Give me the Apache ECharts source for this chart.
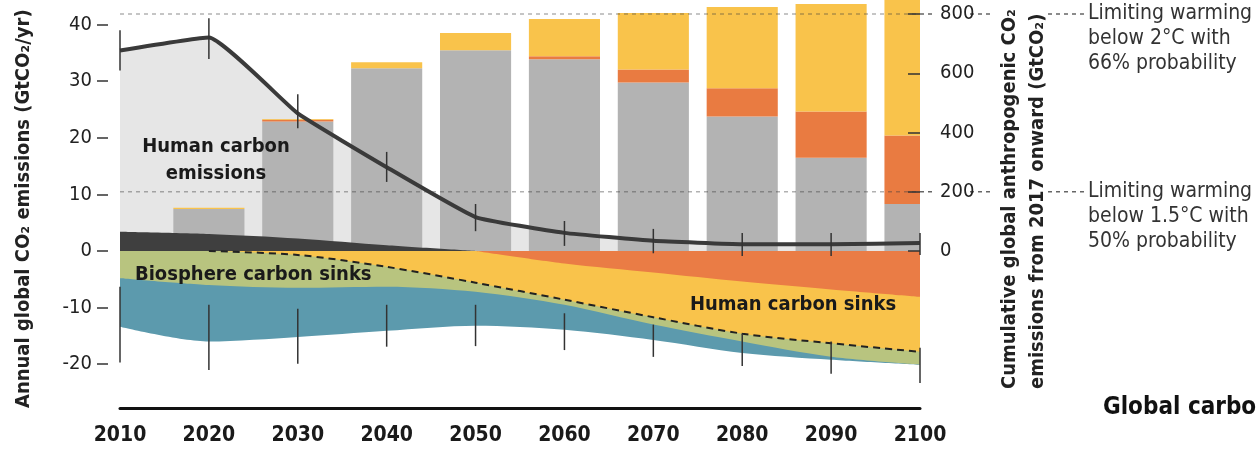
<!DOCTYPE html>
<html><head><meta charset="utf-8">
<script src="https://cdn.jsdelivr.net/npm/echarts@6/dist/echarts.min.js"></script>
<style>html,body{margin:0;padding:0;background:#fff}#c{width:1256px;height:449px}</style>
</head><body><div id="c"></div>
<script>
// ---- data ----
const years = [2010, 2020, 2030, 2040, 2050, 2060, 2070, 2080, 2090, 2100];
const xTicks = [2010, 2020, 2030, 2040, 2050, 2060, 2070, 2080, 2090, 2100];
const leftTicks = [-20, -10, 0, 10, 20, 30, 40];
const rightTicks = [0, 200, 400, 600, 800];
// annual human emissions (GtCO2/yr, left axis)
const emissions = [35.4, 37.7, 24.3, 14.8, 6.0, 3.2, 1.8, 1.2, 1.2, 1.4];
const emissionsHigh = [39.0, 41.1, 27.7, 17.5, 8.3, 5.3, 3.9, 3.2, 3.2, 3.2];
const emissionsLow = [31.9, 33.9, 21.7, 12.2, 3.5, 0.9, -0.4, -0.9, -0.9, -0.7];
const darkBand = [3.4, 3.0, 2.2, 1.0, 0, null, null, null, null, null];
// sink boundaries (left axis, negative)
const orangeSinkEdge = [null, null, null, null, 0, -2.2, -3.8, -5.4, -6.8, -8.1];
const humanSinkEdge = [null, 0, -0.7, -2.8, -5.6, -8.6, -11.7, -14.6, -16.3, -17.8];
const landSinkEdge = [-4.8, -6.0, -6.5, -6.3, -7.2, -9.5, -13.0, -16.0, -18.7, -20.1];
const oceanSinkEdge = [-13.4, -16.0, -15.2, -14.1, -13.2, -13.9, -15.7, -18.0, -19.2, -20.1];
const sinkErrHigh = [-6.3, -9.5, -10.2, -9.5, -9.5, -11.0, -13.0, -14.6, -16.0, -17.1];
const sinkErrLow = [-19.7, -21.0, -19.9, -16.9, -16.8, -17.5, -18.7, -20.3, -21.7, -23.3];
// cumulative emissions from 2017 (GtCO2, right axis)
const barYears = [2020, 2030, 2040, 2050, 2060, 2070, 2080, 2090, 2100];
const cumGray = [142, 437, 617, 678, 647, 569, 454, 315, 159];
const cumOrange = [0, 6, 0, 0, 10, 44, 95, 156, 231];
const cumYellow = [4, 3, 20, 58, 126, 190, 275, 363, 460];
const refLevels = [800, 200];

// ---- chart ----
const FONT = "'DejaVu Sans Condensed',sans-serif";
const pair = arr => years.map((y, i) => [y, arr[i]]).filter(d => d[1] != null);
const SM = 0.3;
const chart = echarts.init(document.getElementById('c'));

function areaSeries(name, arr, color, z, lineStyle, smooth) {
  return {
    name, type: 'line', data: pair(arr), smooth: smooth == null ? SM : smooth, symbol: 'none', z,
    yAxisIndex: 0,
    lineStyle: lineStyle || { width: 0 },
    areaStyle: { color, opacity: 1, origin: 0 }
  };
}
function vbar(params, api, color, w) {
  const x = api.value(0);
  const p1 = api.coord([x, api.value(1)]);
  const p2 = api.coord([x, api.value(2)]);
  return { type: 'line', shape: { x1: p1[0], y1: p1[1], x2: p2[0], y2: p2[1] },
    style: { stroke: color, lineWidth: w } };
}

const option = {
  animation: false,
  grid: { left: 120, right: 336, top: 0, bottom: 41 },
  xAxis: {
    type: 'value', min: 2010, max: 2100, interval: 10,
    axisLine: { show: true, onZero: false, lineStyle: { color: '#111', width: 3 } },
    axisTick: { show: false }, splitLine: { show: false },
    axisLabel: { margin: 17, fontFamily: FONT, fontSize: 21, fontWeight: 'bold', color: '#1a1a1a',
      formatter: v => String(v) }
  },
  yAxis: [
    { type: 'value', min: -27.73, max: 44.33, position: 'left', offset: 12,
      axisLine: { show: false }, splitLine: { show: false },
      axisTick: { show: true, length: 11, customValues: leftTicks, lineStyle: { color: '#333', width: 1.5 } },
      axisLabel: { customValues: leftTicks, margin: 16, fontFamily: FONT, fontSize: 20, color: '#222' } },
    { type: 'value', min: -530, max: 847.3, position: 'right', z: 10,
      axisLine: { show: false }, splitLine: { show: false },
      axisTick: { show: true, inside: true, length: 12, customValues: rightTicks, lineStyle: { color: '#333', width: 1.5 } },
      axisLabel: { customValues: rightTicks, margin: 20, fontFamily: FONT, fontSize: 20, color: '#222' } }
  ],
  series: [
    areaSeries('Human carbon emissions', emissions, '#e6e6e6', 1, null, 0.12),
    { name: 'Cumulative emissions', type: 'custom', yAxisIndex: 1, z: 2, clip: true,
      data: barYears.map((y, i) => [y, cumGray[i], cumOrange[i], cumYellow[i]]),
      encode: { x: 0, y: 1 },
      renderItem: (p, api) => {
        const x = api.value(0), g = api.value(1), o = api.value(2), yv = api.value(3);
        const w = api.size([10, 0])[0] * 0.8;
        const seg = (a, b, color) => {
          const p0 = api.coord([x, a]), p1 = api.coord([x, b]);
          return { type: 'rect', shape: { x: p0[0] - w / 2, y: p1[1], width: w, height: p0[1] - p1[1] },
            style: { fill: color } };
        };
        return { type: 'group', children: [
          seg(0, g, '#b3b3b3'), seg(g, g + o, '#e97b41'), seg(g + o, g + o + yv, '#f9c34b')] };
      } },
    areaSeries('Land use', darkBand, '#3f3f3f', 3),
    areaSeries('Ocean sink', oceanSinkEdge, '#5c9aad', 3),
    areaSeries('Land sink', landSinkEdge, '#b8c47f', 3),
    areaSeries('Human sinks', humanSinkEdge, '#f9c34b', 3, { width: 2, color: '#222', type: [7, 5] }),
    areaSeries('Engineered sinks', orangeSinkEdge, '#ea7c45', 3),
    { name: 'ref', type: 'custom', xAxisIndex: 0, yAxisIndex: 1, z: 4, clip: false,
      data: refLevels.map(v => [2010, v]),
      renderItem: (params, api) => {
        const v = api.value(1);
        const a = api.coord([2010, v]), b = api.coord([2100, v]);
        const seg = (x1, x2, col) => ({ type: 'line', shape: { x1, y1: a[1], x2, y2: a[1] },
          style: { stroke: col, lineWidth: 1.5, lineDash: [4, 4] } });
        return { type: 'group', children: [
          seg(a[0], b[0], 'rgba(60,60,60,0.4)'),
          seg(b[0], b[0] + 15, '#666'),
          seg(b[0] + 50, b[0] + 72, '#666'),
          seg(b[0] + 128, b[0] + 164, '#666')
        ] };
      } },
    { name: 'Emissions', type: 'line', data: pair(emissions), smooth: 0.12, symbol: 'none', z: 5,
      lineStyle: { color: '#3a3a3a', width: 4 } },
    { name: 'emErr', type: 'custom', z: 6, clip: false,
      data: years.map((y, i) => [y, emissionsLow[i], emissionsHigh[i]]),
      renderItem: (p, api) => vbar(p, api, '#333', 1.5) },
    { name: 'sinkErr', type: 'custom', z: 6, clip: false,
      data: years.map((y, i) => [y, sinkErrLow[i], sinkErrHigh[i]]),
      renderItem: (p, api) => vbar(p, api, '#333', 1.5) }
  ],
  graphic: [
    { type: 'text', x: 24, y: 408, rotation: Math.PI / 2,
      style: { text: 'Annual global CO₂ emissions (GtCO₂/yr)', font: 'bold 20px ' + FONT, fill: '#222', align: 'left', verticalAlign: 'middle' } },
    { type: 'text', x: 1010, y: 389, rotation: Math.PI / 2,
      style: { text: 'Cumulative global anthropogenic CO₂', font: 'bold 20px ' + FONT, fill: '#222', align: 'left', verticalAlign: 'middle' } },
    { type: 'text', x: 1038, y: 389, rotation: Math.PI / 2,
      style: { text: 'emissions from 2017 onward (GtCO₂)', font: 'bold 20px ' + FONT, fill: '#222', align: 'left', verticalAlign: 'middle' } },
    { type: 'text', x: 1088, y: 39,
      style: { text: 'Limiting warming\nbelow 2°C with\n66% probability', font: '21px ' + FONT, lineHeight: 25, fill: '#333', align: 'left', verticalAlign: 'middle' } },
    { type: 'text', x: 1088, y: 217,
      style: { text: 'Limiting warming\nbelow 1.5°C with\n50% probability', font: '21px ' + FONT, lineHeight: 25, fill: '#333', align: 'left', verticalAlign: 'middle' } },
    { type: 'text', x: 1103, y: 408,
      style: { text: 'Global carbo', font: 'bold 24px ' + FONT, fill: '#111', align: 'left', verticalAlign: 'middle' } },
    { type: 'text', x: 216, y: 160, z: 10,
      style: { text: 'Human carbon\nemissions', font: 'bold 20px ' + FONT, lineHeight: 27, fill: '#1a1a1a', align: 'center', verticalAlign: 'middle' } },
    { type: 'text', x: 135, y: 275, z: 10,
      style: { text: 'Biosphere carbon sinks', font: 'bold 20px ' + FONT, fill: '#1a1a1a', align: 'left', verticalAlign: 'middle' } },
    { type: 'text', x: 690, y: 305, z: 10,
      style: { text: 'Human carbon sinks', font: 'bold 20px ' + FONT, fill: '#1a1a1a', align: 'left', verticalAlign: 'middle' } }
  ]
};
chart.setOption(option);
</script>
</body></html>
